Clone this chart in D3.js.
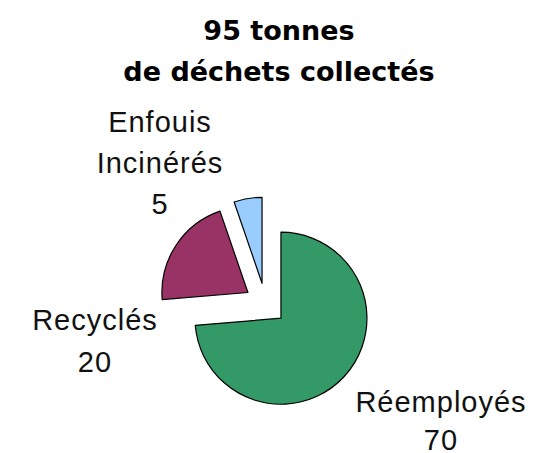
<!DOCTYPE html>
<html>
<head>
<meta charset="utf-8">
<script src="https://cdn.jsdelivr.net/npm/d3@7"></script>
<style>
  body { margin: 0; background: #fff; }
  svg { display: block; }
</style>
</head>
<body>
<div id="chart"></div>
<script>
const categories = ['Réemployés', 'Recyclés', 'Enfouis Incinérés'];
const values = [70, 20, 5];
const labelLines = [['Réemployés', '70'], ['Recyclés', '20'], ['Enfouis', 'Incinérés', '5']];
const colors = ['#339966', '#993366', '#99ccff'];
const titleLines = ['95 tonnes', 'de déchets collectés'];

const W = 535, H = 453;
const cx = 265.5, cy = 304, radius = 86, explode = 21;
// label anchor (center x, first baseline y) and line height per slice
const labelPos = [[441, 412, 38], [95, 330, 42], [160, 132, 41]];

const svg = d3.select('#chart').append('svg')
  .attr('width', W)
  .attr('height', H);

svg.append('g')
  .selectAll('text')
  .data(titleLines)
  .join('text')
  .attr('x', 279)
  .attr('y', (d, i) => 40 + i * 41)
  .attr('text-anchor', 'middle')
  .style('font-family', '"DejaVu Sans", sans-serif')
  .style('font-weight', 'bold')
  .style('font-size', '27px')
  .text(d => d);

const pie = d3.pie().sort(null).value(d => d);
const arc = d3.arc().innerRadius(0).outerRadius(radius);
const arcs = pie(values);

svg.append('g')
  .attr('transform', `translate(${cx},${cy})`)
  .selectAll('path')
  .data(arcs)
  .join('path')
  .attr('transform', d => {
    const a = (d.startAngle + d.endAngle) / 2;
    return `translate(${Math.sin(a) * explode},${-Math.cos(a) * explode})`;
  })
  .attr('d', arc)
  .attr('fill', (d, i) => colors[i])
  .attr('stroke', '#000')
  .attr('stroke-width', 1.2)
  .attr('stroke-linejoin', 'round');

const labels = svg.append('g')
  .selectAll('text')
  .data(labelLines)
  .join('text')
  .attr('text-anchor', 'middle')
  .style('font-family', '"Liberation Sans", Arial, sans-serif')
  .style('font-size', '29px')
  .style('letter-spacing', '1px')
  .attr('fill', '#111');

labels.selectAll('tspan')
  .data((d, i) => d.map((t, k) => ({ t, i, k })))
  .join('tspan')
  .attr('x', d => labelPos[d.i][0])
  .attr('y', d => labelPos[d.i][1] + d.k * labelPos[d.i][2])
  .text(d => d.t);
</script>
</body>
</html>
